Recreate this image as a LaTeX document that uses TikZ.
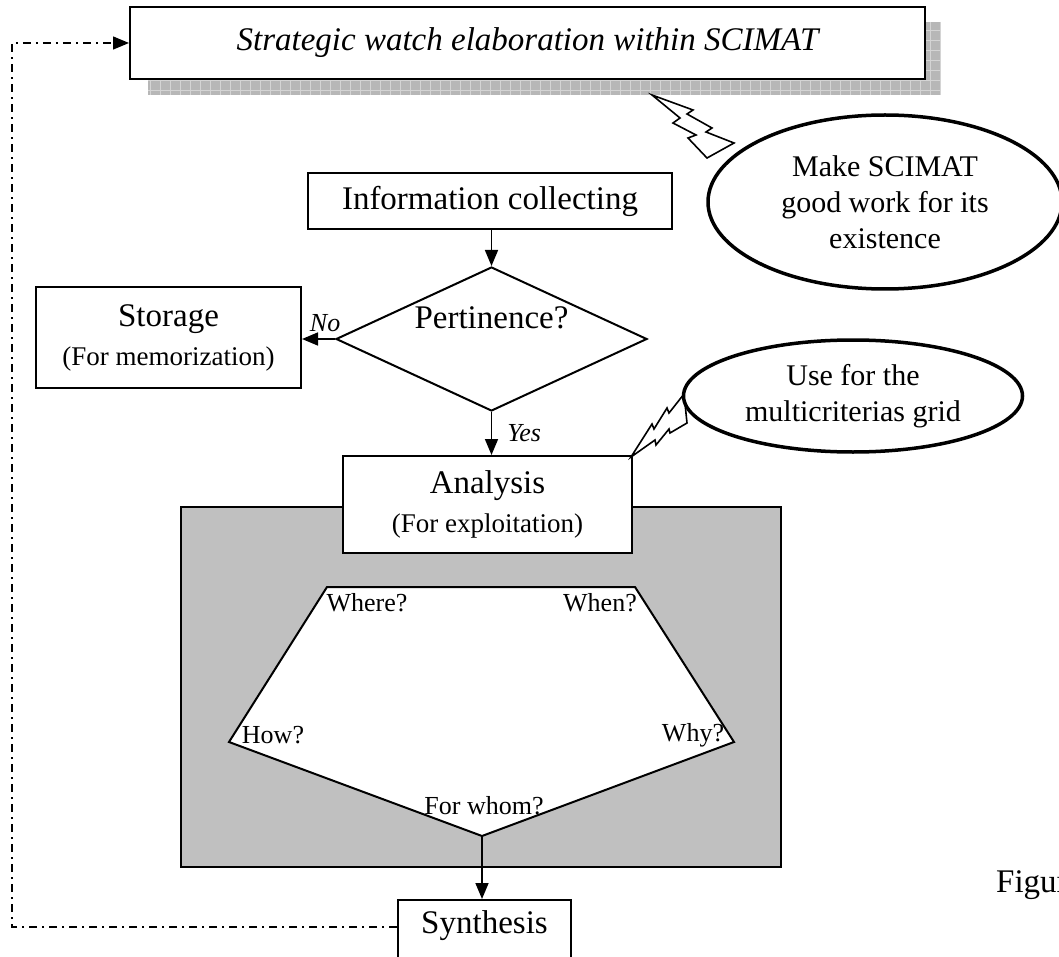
\documentclass[tikz,border=0pt]{standalone}
\usepackage{fontspec}
\setmainfont{Liberation Serif}
\usetikzlibrary{shapes.geometric,arrows.meta,calc}

\newcommand{\bigtxt}{\fontsize{33}{39}\selectfont}
\newcommand{\midtxt}{\fontsize{27}{34}\selectfont}
\newcommand{\smltxt}{\fontsize{26}{31}\selectfont}

\definecolor{greyfill}{RGB}{192,192,192}
\definecolor{shadowfill}{RGB}{183,183,183}
\definecolor{shadowgrid}{RGB}{212,212,212}

\tikzset{
  stepbox/.style={draw, fill=white, line width=2pt, inner sep=0pt, font=\bigtxt, align=center},
  note/.style={ellipse, draw, fill=white, line width=3.5pt, inner sep=0pt, align=center, font=\fontsize{30}{36}\selectfont},
  flow/.style={line width=1.6pt, -{Triangle[length=16pt,width=13pt]}},
  feedback/.style={line width=1.4pt, dash pattern=on 8pt off 5pt on 2pt off 5pt, -{Triangle[length=16pt,width=13pt]}},
  bolt/.style={draw, fill=white, line width=1.6pt, line join=miter},
  answer/.style={font=\itshape\smltxt, inner sep=0pt},
  corner/.style={font=\smltxt, inner sep=0pt}
}

\begin{document}
\begin{tikzpicture}[x=1pt,y=1pt,yscale=-1,xscale=1]
  \clip (0,0) rectangle (1059,957);

  %Shadow of the title
  \fill[shadowfill] (148,22) rectangle (940,95);
  \draw[shadowgrid, line width=0.6pt, step=10] (148,22) grid (940,95);

  % Title box
  \node[stepbox, minimum width=795pt, minimum height=72pt, font=\itshape\bigtxt] (watch) at (527.5,43) {Strategic watch elaboration within SCIMAT};

  % Flow boxes
  \node[stepbox, minimum width=364pt, minimum height=56pt] (collect) at (490,201) {Information collecting};
  \node[diamond, draw, line width=2pt, minimum width=311pt, minimum height=144pt, inner sep=0pt] (pert) at (491.5,339) {};
  \node[font=\bigtxt, inner sep=0pt] (pertxt) at (491.5,318) {Pertinence?};
  \node[stepbox, minimum width=265pt, minimum height=101pt] (store) at (168.5,337.5) {Storage\\{\midtxt (For memorization)}};

  %Grey area
  \draw[fill=greyfill, line width=2.5pt] (181,507) rectangle (781,867);
  \node[stepbox, minimum width=289pt, minimum height=97pt] (analysis) at (487.5,504.5) {Analysis\\{\midtxt (For exploitation)}};

  %Pentagon of questions
  \coordinate (pTL) at (327,587);
  \coordinate (pTR) at (635,587);
  \coordinate (pR) at (734,742);
  \coordinate (pB) at (482,836);
  \coordinate (pL) at (229,742);
  \draw[fill=white, line width=2pt] (pTL) -- (pTR) -- (pR) -- (pB) -- (pL) -- cycle;
  \node[corner] (where) at (367,603) {Where?};
  \node[corner] (when) at (600,603) {When?};
  \node[corner] (how) at (273,735) {How?};
  \node[corner] (why) at (693,735) {Why?};
  \node[corner] (whom) at (484,806) {For whom?};

  \node[stepbox, minimum width=173pt, minimum height=80pt, text height=22pt, text depth=35pt] (synth) at (484.5,940) {Synthesis};

  % Arrows
  \draw[flow] (pert.north |- collect.south) -- (pert.north);
  \draw[flow] (pert.west) -- (pert.west -| store.east) node[answer, above=6pt, pos=0.3] {No};
  \draw[flow] (pert.south) -- (pert.south |- analysis.north) node[answer, right=15pt, midway] {Yes};
  \draw[flow] (pB) -- (pB |- synth.north);
  \draw[feedback] ($(synth.west)+(0,-13)$) -- ++(-385,0) |- (watch.west);

  %Callouts
  \draw[bolt] (652,95) -- (693,110) -- (687,114) -- (712,128) -- (706,132) -- (734,143) -- (707,158) -- (688,138) -- (696,135) -- (673,123) -- (680,118) -- cycle;
  \draw[bolt] (631,457) -- (652,424) -- (654,429) -- (667,408) -- (669,413) -- (684,394) -- (687,423) -- (670,433) -- (669,429) -- (656,445) -- (655,440) -- cycle;
  \node[note, minimum width=354pt, minimum height=174pt] (makenote) at (885,202) {Make SCIMAT\\good work for its\\existence};
  \node[note, minimum width=339pt, minimum height=112pt] (usenote) at (853,396) {Use for the\\multicriterias grid};

  % Caption, cut by the page
  \node[anchor=west, font=\bigtxt, inner sep=0pt] (caption) at (996,885) {Figure};
\end{tikzpicture}
\end{document}
